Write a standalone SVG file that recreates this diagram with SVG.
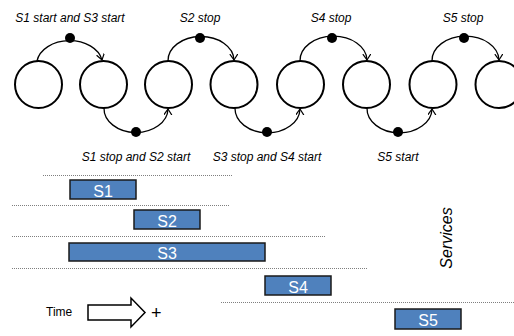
<svg xmlns="http://www.w3.org/2000/svg" width="514" height="336" viewBox="0 0 514 336">
<style>
.st{fill:#fff;stroke:#000;stroke-width:2}
.arc{fill:none;stroke:#000;stroke-width:1.3}
.dot{fill:#000}
.lbl{font-family:"Liberation Sans",Arial,sans-serif;font-style:italic;font-size:12px;fill:#000;text-anchor:middle}
.dl{stroke:#7f7f7f;stroke-width:1;stroke-dasharray:1 1}
.bar{fill:#4f81bd;stroke:#1a1a1a;stroke-width:1.5}
.bt{font-family:"Liberation Sans",Arial,sans-serif;font-size:16px;fill:#fff;text-anchor:middle}
</style>
<defs>
<marker id="ah" markerUnits="userSpaceOnUse" markerWidth="10" markerHeight="10" refX="6" refY="4" orient="auto">
<path d="M0,0 L6,4 L0,8" fill="none" stroke="#000" stroke-width="1.2"/>
</marker>
</defs>
<g id="states">
<circle id="n1" class="st" cx="38.5" cy="84.5" r="23.5"/>
<circle id="n2" class="st" cx="103.5" cy="84.5" r="23.5"/>
<circle id="n3" class="st" cx="168.5" cy="84.5" r="23.5"/>
<circle id="n4" class="st" cx="234" cy="84.5" r="23.5"/>
<circle id="n5" class="st" cx="300.5" cy="84.5" r="23.5"/>
<circle id="n6" class="st" cx="366.5" cy="84.5" r="23.5"/>
<circle id="n7" class="st" cx="433" cy="84.5" r="23.5"/>
<circle id="n8" class="st" cx="499" cy="84.5" r="23.5"/>
</g>
<g id="connectors">
<path class="arc" d="M37,61 A33,24 0 0 1 102,60" marker-end="url(#ah)"/>
<path class="arc" d="M104,108 A32,24 0 0 0 168,109" marker-end="url(#ah)"/>
<path class="arc" d="M168,61 A33,24 0 0 1 234,60" marker-end="url(#ah)"/>
<path class="arc" d="M235,108 A32,24 0 0 0 300,109" marker-end="url(#ah)"/>
<path class="arc" d="M300,61 A33,24 0 0 1 367,60" marker-end="url(#ah)"/>
<path class="arc" d="M367,108 A32,24 0 0 0 432,109" marker-end="url(#ah)"/>
<path class="arc" d="M432,61 A33,24 0 0 1 499,60" marker-end="url(#ah)"/>
<circle class="dot" cx="70" cy="38" r="5"/>
<circle class="dot" cx="136" cy="132" r="5"/>
<circle class="dot" cx="200" cy="38" r="5"/>
<circle class="dot" cx="267" cy="132" r="5"/>
<circle class="dot" cx="332" cy="38" r="5"/>
<circle class="dot" cx="398" cy="132" r="5"/>
<circle class="dot" cx="464" cy="38" r="5"/>
</g>
<g id="labels">
<text class="lbl" x="70" y="22">S1 start and S3 start</text>
<text class="lbl" x="200" y="22">S2 stop</text>
<text class="lbl" x="331" y="22">S4 stop</text>
<text class="lbl" x="463" y="22">S5 stop</text>
<text class="lbl" x="136" y="161">S1 stop and S2 start</text>
<text class="lbl" x="267" y="161">S3 stop and S4 start</text>
<text class="lbl" x="398" y="161">S5 start</text>
</g>
<g id="lanes">
<line class="dl" x1="43" y1="175.5" x2="233" y2="175.5"/>
<line class="dl" x1="12" y1="205.5" x2="229" y2="205.5"/>
<line class="dl" x1="12" y1="236.5" x2="325" y2="236.5"/>
<line class="dl" x1="12" y1="268.5" x2="367" y2="268.5"/>
<line class="dl" x1="221" y1="302.5" x2="514" y2="302.5"/>
</g>
<g id="s1"><rect class="bar" x="70" y="180" width="66" height="19"/><text class="bt" x="103" y="196.5">S1</text></g>
<g id="s2"><rect class="bar" x="134" y="210" width="66" height="19"/><text class="bt" x="167" y="226.5">S2</text></g>
<g id="s3"><rect class="bar" x="69" y="243" width="196" height="18"/><text class="bt" x="167" y="258.5">S3</text></g>
<g id="s4"><rect class="bar" x="265" y="276" width="66" height="19"/><text class="bt" x="298" y="292.5">S4</text></g>
<g id="s5"><rect class="bar" x="395" y="309" width="66" height="20"/><text class="bt" x="428" y="326">S5</text></g>
<text x="446" y="238" transform="rotate(-90 446 238)" dy="6" font-family="Liberation Sans, Arial, sans-serif" font-style="italic" font-size="16" text-anchor="middle">Services</text>
<g id="time">
<text x="46" y="316" font-family="Liberation Sans, Arial, sans-serif" font-size="12">Time</text>
<polygon points="88,305 131,305 131,298 145,312.5 131,327 131,320 88,320" fill="#fff" stroke="#000" stroke-width="1.5"/>
<text x="151" y="319" font-family="Liberation Sans, Arial, sans-serif" font-size="18">+</text>
</g>
</svg>
